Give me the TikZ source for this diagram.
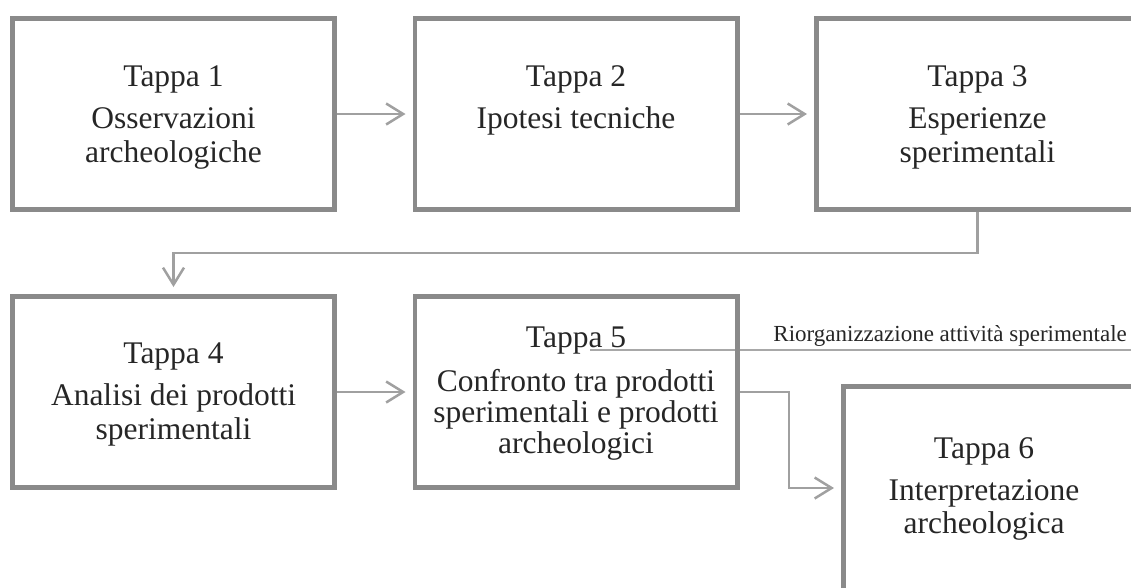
\documentclass[tikz,border=0pt]{standalone}
\usepackage{fontspec}
\setmainfont{Liberation Serif}
\usetikzlibrary{arrows.meta}
\definecolor{boxgray}{HTML}{8A8A8A}
\definecolor{arrgray}{HTML}{A0A0A0}
\definecolor{linegray}{HTML}{A8A8A8}
\definecolor{txt}{HTML}{262626}
\begin{document}
\begin{tikzpicture}[x=1pt,y=-1pt,
  stepbox/.style={draw=boxgray, line width=4.6pt, rectangle, fill=white,
    minimum width=322.4pt, minimum height=191.4pt, inner sep=0pt},
  big/.style={font=\fontsize{31.5}{33}\selectfont, text=txt, anchor=base, inner sep=0pt},
  small/.style={font=\fontsize{23}{25}\selectfont, text=txt, inner sep=0pt},
  conn/.style={draw=arrgray, line width=2.5pt,
    -{Straight Barb[length=17pt,width=21pt,line width=2.5pt]}, shorten >=7pt}
]
\useasboundingbox (0,0) rectangle (1131,587);
% free ends of the reorganisation line
\coordinate (r1) at (590,350);
\coordinate (r2) at (1131,350);
% boxes
\node[stepbox] (b1) at (173.5,114) {};
\node[stepbox] (b2) at (576,114) {};
\node[stepbox] (b3) at (977.5,114) {};
\node[stepbox] (b4) at (173.5,392) {};
\node[stepbox] (b5) at (576,392) {};
\node[stepbox, minimum height=235.4pt] (b6) at (1004.5,504) {};
\draw[linegray, line width=1.5pt] (r1) -- (r2);
\draw[boxgray, line width=4.6pt] ([xshift=-2.3pt,yshift=-2.3pt]b5.north east) -- ([xshift=-2.3pt,yshift=2.3pt]b5.south east);
% texts
\node[big] (t1a) at (173.5,86) {Tappa 1};
\node[big] (t1b) at (173.5,128) {Osservazioni};
\node[big] (t1c) at (173.5,162) {archeologiche};
\node[big] (t2a) at (576,86) {Tappa 2};
\node[big] (t2b) at (576,128) {Ipotesi tecniche};
\node[big] (t3a) at (977.5,86) {Tappa 3};
\node[big] (t3b) at (977.5,128) {Esperienze};
\node[big] (t3c) at (977.5,162) {sperimentali};
\node[big] (t4a) at (173.5,363) {Tappa 4};
\node[big] (t4b) at (173.5,405) {Analisi dei prodotti};
\node[big] (t4c) at (173.5,439) {sperimentali};
\node[big] (t5a) at (576,347) {Tappa 5};
\node[big] (t5b) at (576,391) {Confronto tra prodotti};
\node[big] (t5c) at (576,422) {sperimentali e prodotti};
\node[big] (t5d) at (576,453) {archeologici};
\node[big] (t6a) at (984,458) {Tappa 6};
\node[big] (t6b) at (984,500) {Interpretazione};
\node[big] (t6c) at (984,533) {archeologica};
\node[small, anchor=base east] (rl) at (1127,341) {Riorganizzazione attività sperimentale};
% connectors
\draw[conn] (b1.east) -- (b2.west);
\draw[conn] (b2.east) -- (b3.west);
\draw[conn] (b3.south) -- (b3.south |- 0,253) -| (b4.north);
\draw[conn] (b4.east) -- (b5.west);
\draw[conn] (b5.east) -- (789,392) |- (b6.west |- 0,488);
\end{tikzpicture}
\end{document}
